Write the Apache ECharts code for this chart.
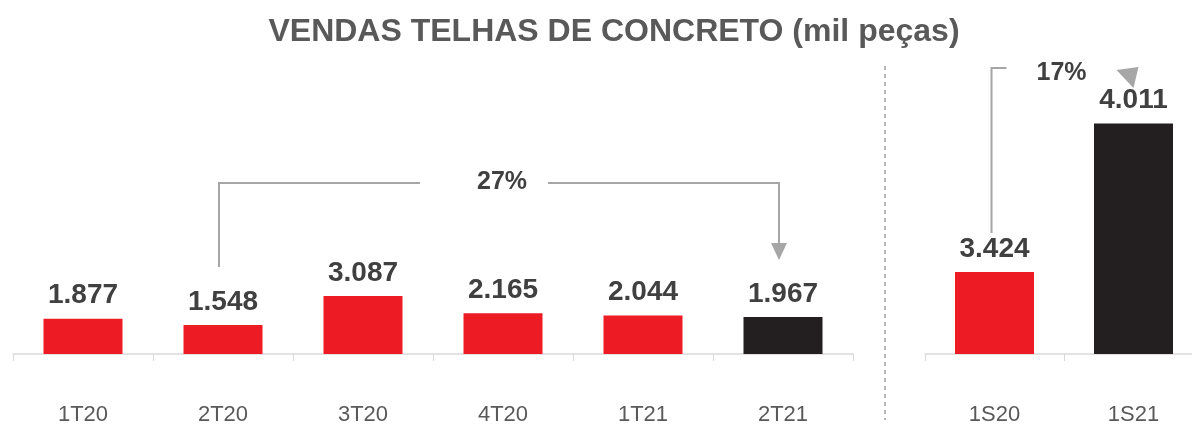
<!DOCTYPE html>
<html>
<head>
<meta charset="utf-8">
<script src="https://cdn.jsdelivr.net/npm/echarts@6/dist/echarts.min.js"></script>
<style>
  html, body { margin: 0; padding: 0; background: #fff; }
  #chart { width: 1192px; height: 426px; }
</style>
</head>
<body>
<div id="chart"></div>
<script>
// quarterly sales (mil peças)
var quarters = ['1T20', '2T20', '3T20', '4T20', '1T21', '2T21'];
var quarterValues = [1877, 1548, 3087, 2165, 2044, 1967];
// half-year sales
var semesters = ['1S20', '1S21'];
var semesterValues = [3424, 4011];

var RED = '#ED1C24', BLACK = '#231F20';
var FONT = "'Liberation Sans', Arial, sans-serif";

function fmt(v) {
    // 1877 -> "1.877"
    return Math.floor(v / 1000) + '.' + String(v % 1000).padStart(3, '0');
}

function colored(values) {
    return values.map(function (v, i) {
        return { value: v, itemStyle: { color: i === values.length - 1 ? BLACK : RED } };
    });
}

var labelStyle = {
    show: true,
    position: 'top',
    distance: 9,
    fontFamily: FONT,
    fontSize: 28,
    fontWeight: 'bold',
    color: '#404040',
    formatter: function (p) { return fmt(p.value); }
};

function catAxis(idx, data) {
    return {
        type: 'category',
        gridIndex: idx,
        data: data,
        axisLine: { lineStyle: { color: '#d9d9d9', width: 1.5 } },
        axisTick: { show: true, length: 7, lineStyle: { color: '#d9d9d9' } },
        axisLabel: { margin: 50, fontFamily: FONT, fontSize: 22, color: '#595959' }
    };
}

var myChart = echarts.init(document.getElementById('chart'));

var option = {
    animation: false,
    title: {
        text: 'VENDAS TELHAS DE CONCRETO (mil peças)',
        left: 609,
        textAlign: 'center',
        top: 11,
        textStyle: { fontFamily: FONT, fontSize: 32, fontWeight: 'bold', color: '#595959' }
    },
    grid: [
        { left: 13, width: 840, top: 53, bottom: 72, outerBoundsMode: 'none' },
        { left: 925, width: 278, top: 53, bottom: 72, outerBoundsMode: 'none' }
    ],
    xAxis: [catAxis(0, quarters), catAxis(1, semesters)],
    yAxis: [
        { type: 'value', gridIndex: 0, min: 0, max: 16000, show: false, splitLine: { show: false } },
        // semester panel is drawn with a cut axis, as in the original slide
        { type: 'value', gridIndex: 1, min: 3100, max: 4290, show: false, splitLine: { show: false } }
    ],
    series: [
        { type: 'bar', xAxisIndex: 0, yAxisIndex: 0, barWidth: 79, data: colored(quarterValues), label: labelStyle },
        { type: 'bar', xAxisIndex: 1, yAxisIndex: 1, barWidth: 79, data: colored(semesterValues), label: labelStyle }
    ]
};
myChart.setOption(option);

// --- annotations (brackets with growth %) ---
var GREY = '#a6a6a6';
function pt(seriesIndex, cats, values, name) {
    var i = cats.indexOf(name);
    return myChart.convertToPixel({ seriesIndex: seriesIndex }, [i, values[i]]);
}
function line(points) {
    return {
        type: 'polyline',
        shape: { points: points },
        style: { stroke: GREY, lineWidth: 2, fill: null }
    };
}
function pctText(x, y, txt) {
    return {
        type: 'text', x: x, y: y,
        style: { text: txt, fontFamily: FONT, fontSize: 25, fontWeight: 'bold', fill: '#404040', align: 'center', verticalAlign: 'middle' }
    };
}

var g = [];

// 27% : 2T20 -> 2T21
var a = pt(0, quarters, quarterValues, '2T20');
var b = pt(0, quarters, quarterValues, '2T21');
var x1 = a[0] - 4, x2 = b[0] - 4, topY = 183;
var mid = (x1 + x2) / 2 + 3;
var tip = b[1] - 57;
g.push(line([[x1, a[1] - 58], [x1, topY], [mid - 82, topY]]));
g.push(line([[mid + 46, topY], [x2, topY], [x2, tip - 16]]));
g.push({ type: 'polygon', shape: { points: [[x2 - 8, tip - 17], [x2 + 8, tip - 17], [x2, tip]] }, style: { fill: GREY } });
g.push(pctText(mid, topY - 1, '27%'));

// 17% : 1S20 -> 1S21
var c = pt(1, semesters, semesterValues, '1S20');
var d = pt(1, semesters, semesterValues, '1S21');
var sx = c[0] - 3, sTop = 68;
g.push(line([[sx, c[1] - 39], [sx, sTop], [sx + 15, sTop]]));
g.push(pctText(sx + 70, 73, '17%'));
var ax = d[0];
g.push({ type: 'polygon', shape: { points: [[ax - 17, 70], [ax + 5, 67], [ax, 88]] }, style: { fill: GREY } });

// dashed separator between the panels
g.push({
    type: 'line',
    shape: { x1: 885, y1: 66, x2: 885, y2: 420 },
    style: { stroke: '#a0a0a0', lineWidth: 1.5, lineDash: [4, 4] }
});

myChart.setOption({ graphic: g });
</script>
</body>
</html>
